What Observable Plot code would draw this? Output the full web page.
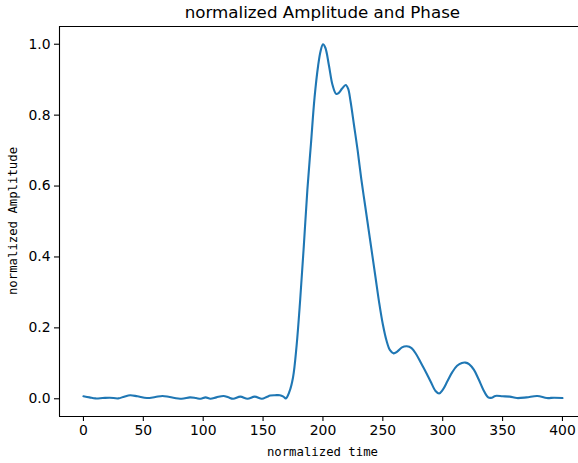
<!DOCTYPE html>
<html>
<head>
<meta charset="utf-8">
<script src="https://cdn.jsdelivr.net/npm/d3@7"></script>
<script src="https://cdn.jsdelivr.net/npm/@observablehq/plot@0.6"></script>
<style>
  html, body { margin: 0; padding: 0; background: #fff; }
  #chart svg { display: block; }
</style>
</head>
<body>
<div id="chart"></div>
<script>
const titleText = "normalized Amplitude and Phase";
const xLabel = "normalized time";
const yLabel = "normalized Amplitude";

const xTicks = [0, 50, 100, 150, 200, 250, 300, 350, 400];
const yTicks = [0.0, 0.2, 0.4, 0.6, 0.8, 1.0];

const times = [0,5,10,16,22,29,34,39,45,53,60,66,72,82,89,94,98,102,106,111,117,121,125,131,137,143,149,153,156,160,164,167,169,172,175,178,181,184,187,190,193,196,198,200,202,205,208,211,213,216,219,221,223,226,229,232,235,238,241,244,247,250,253,256,259,262,266,270,274,278,282,286,290,294,297,300,304,308,312,316,319,322,326,330,334,338,341,344,350,356,362,370,379,387,393,400];
const amps = [0.007,0.004,0.001,0.002,0.003,0.001,0.006,0.010,0.007,0.002,0.005,0.008,0.005,0.0,0.004,0.002,0.0,0.004,0.0,0.004,0.008,0.004,0.0,0.006,0.0,0.006,0.0,0.005,0.009,0.010,0.010,0.006,0.001,0.02,0.06,0.15,0.28,0.43,0.59,0.72,0.85,0.94,0.98,1.0,0.99,0.94,0.885,0.86,0.862,0.875,0.885,0.875,0.84,0.77,0.70,0.62,0.55,0.48,0.41,0.34,0.27,0.21,0.165,0.137,0.128,0.133,0.145,0.148,0.143,0.125,0.10,0.075,0.048,0.022,0.015,0.025,0.05,0.075,0.093,0.101,0.102,0.098,0.082,0.055,0.025,0.004,0.003,0.008,0.007,0.006,0.002,0.004,0.008,0.002,0.003,0.002];

const data = times.map((t, i) => ({t, v: amps[i]}));

const W = 578, H = 463;
const mL = 59, mR = 0, mT = 26, mB = 47;
const xDomain = [-20, 413.4];
const yDomain = [-0.05, 1.05];

const plot = Plot.plot({
  width: W,
  height: H,
  marginLeft: mL,
  marginRight: mR,
  marginTop: mT,
  marginBottom: mB,
  style: {fontFamily: "'DejaVu Sans', sans-serif", fontSize: "13.9px", color: "#000", background: "#fff"},
  x: {domain: xDomain},
  y: {domain: yDomain},
  marks: [
    Plot.line(data, {x: "t", y: "v", stroke: "#1f77b4", strokeWidth: 2.1, curve: "catmull-rom"}),
    Plot.ruleX([xDomain[0]], {stroke: "#000", strokeWidth: 1.1}),
    Plot.ruleY([yDomain[0]], {stroke: "#000", strokeWidth: 1.1}),
    Plot.ruleY([yDomain[1]], {stroke: "#000", strokeWidth: 1.1}),
    Plot.axisX(xTicks, {tickSize: 5, tickPadding: 4, strokeWidth: 1.1, label: null, fontSize: 13.9, fill: "#000"}),
    Plot.axisY(yTicks, {tickSize: 5, tickPadding: 4, strokeWidth: 1.1, label: null, tickFormat: d3.format(".1f"), fontSize: 13.9, fill: "#000"})
  ]
});

const svg = d3.select(plot);
const xs = plot.scale("x");
const ys = plot.scale("y");
const frameCenterX = (xs.apply(xDomain[0]) + xs.apply(420)) / 2;
const frameCenterY = (ys.apply(yDomain[0]) + ys.apply(yDomain[1])) / 2;

svg.append("text")
  .attr("x", frameCenterX).attr("y", 18)
  .attr("text-anchor", "middle")
  .attr("font-family", "'DejaVu Sans', sans-serif")
  .attr("font-size", 16.7)
  .attr("fill", "#000")
  .text(titleText);

svg.append("text")
  .attr("x", frameCenterX).attr("y", 456)
  .attr("text-anchor", "middle")
  .attr("font-family", "'DejaVu Sans Mono', monospace")
  .attr("font-size", 12.3)
  .attr("fill", "#000")
  .text(xLabel);

svg.append("text")
  .attr("transform", `translate(17,${frameCenterY}) rotate(-90)`)
  .attr("text-anchor", "middle")
  .attr("font-family", "'DejaVu Sans Mono', monospace")
  .attr("font-size", 12.3)
  .attr("fill", "#000")
  .text(yLabel);

document.getElementById("chart").appendChild(plot);
</script>
</body>
</html>
